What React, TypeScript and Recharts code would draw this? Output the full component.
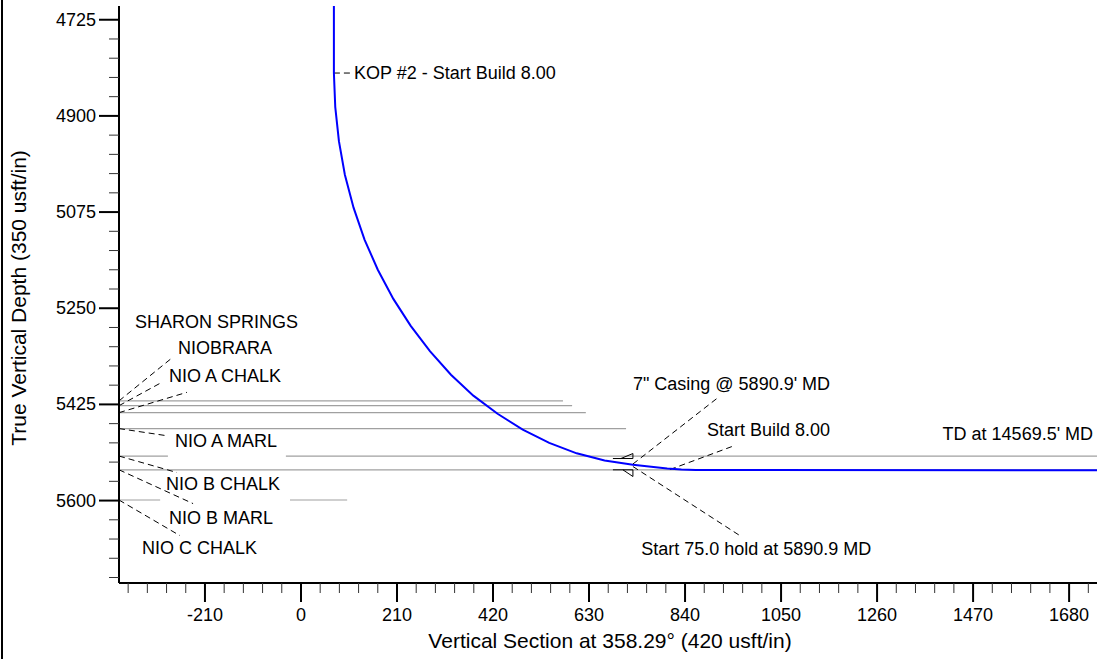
import React from "react";
import { LineChart, Line, XAxis, YAxis, ReferenceLine, ReferenceDot, Label } from "recharts";

const FONT = '"Liberation Sans", Arial, Helvetica, sans-serif';

// well path: vertical section (usft) and TVD (usft)
const pathVS = [72, 72, 75, 83, 96, 115, 139, 168, 202, 240, 282, 328, 377, 430, 485, 543, 603, 664, 726, 801, 832, 863, 1741];
const pathTVD = [4700, 4822, 4884, 4946, 5007, 5067, 5125, 5180, 5233, 5282, 5328, 5371, 5409, 5442, 5471, 5495, 5514, 5527, 5535, 5541.5, 5543.6, 5544.5, 5545];

// formation tops
const formationNames = ["SHARON SPRINGS", "NIOBRARA", "NIO A CHALK", "NIO A MARL", "NIO B CHALK", "NIO B MARL", "NIO C CHALK"];
const formationTVD = [5418.6, 5427.3, 5440, 5469, 5519, 5544, 5599];
const formationEndVS = [573, 593, 623, 711, 1741, 1741, 101];

// axis ticks
const xMajor = [-210, 0, 210, 420, 630, 840, 1050, 1260, 1470, 1680];
const yMajor = [4725, 4900, 5075, 5250, 5425, 5600];
const X_DOMAIN: [number, number] = [-398, 1741];
const Y_DOMAIN: [number, number] = [4700, 5750];

// label layout (data coords): where the text sits and where the dashed leader ends
const formationLabelPos = [
  { tx: -363, ty: 5275.5, lx: -280, ly: 5339 },
  { tx: -269, ty: 5323, lx: -308.4, ly: 5386.7 },
  { tx: -288.7, ty: 5374, lx: -249.4, ly: 5403 },
  { tx: -275.6, ty: 5492.5, lx: -297.5, ly: 5481.5 },
  { tx: -295.3, ty: 5569, lx: -271.2, ly: 5549 },
  { tx: -288.7, ty: 5631, lx: -236, ly: 5605.5 },
  { tx: -347.8, ty: 5685.7, lx: -264.7, ly: 5663.8 },
];
// where the tops are broken by the labels
const formationGaps: ([number, number] | null)[] = [null, null, null, null, [-291, -33], null, [-308, -24]];

const wellNotes = [
  { text: "KOP #2 - Start Build 8.00", vs: 72, tvd: 4822, lx: 107, ly: 4822, tx: 116, ty: 4822, anchor: "start" },
  { text: "7\" Casing @ 5890.9' MD", vs: 726, tvd: 5533.5, lx: 910, ly: 5414, tx: 726, ty: 5388.5, anchor: "start" },
  { text: "Start Build 8.00", vs: 807, tvd: 5543.5, lx: 949, ly: 5499.7, tx: 888, ty: 5472.4, anchor: "start" },
  { text: "Start 75.0 hold at 5890.9 MD", vs: 726, tvd: 5538, lx: 960, ly: 5663.8, tx: 744, ty: 5687.5, anchor: "start" },
  { text: "TD at 14569.5' MD", vs: null, tvd: null, lx: 0, ly: 0, tx: 1732.5, ty: 5478, anchor: "end" },
];
const casingPoint = { vs: 726, tvd: 5533.5 };

const wellPath = pathVS.map((vs, i) => ({ vs, tvd: pathTVD[i] }));

function subTicks(major: number[], domain: [number, number]) {
  const step = (major[1] - major[0]) / 5;
  const out: number[] = [];
  for (let v = major[0] - 5 * step; v <= domain[1] + 0.001; v += step) {
    if (v >= domain[0]) out.push(Math.round(v));
  }
  return out;
}
const xTicks = subTicks(xMajor, X_DOMAIN);
const yTicks = subTicks(yMajor, Y_DOMAIN);

const XTick = (p: any) => {
  const v = p.payload.value;
  const major = xMajor.includes(v);
  return (
    <g>
      <line x1={p.x} x2={p.x} y1={p.y} y2={p.y + (major ? 19 : 10)} stroke={major ? "#000" : "#333"} strokeWidth={major ? 2 : 1} />
      {major && (
        <text x={p.x} y={p.y + 32} textAnchor="middle" dominantBaseline="central" fontSize={18} fontFamily={FONT} fill="#000">
          {v}
        </text>
      )}
    </g>
  );
};

const YTick = (p: any) => {
  const v = p.payload.value;
  const major = yMajor.includes(v);
  return (
    <g>
      <line x1={p.x - (major ? 20 : 10)} x2={p.x} y1={p.y} y2={p.y} stroke={major ? "#000" : "#333"} strokeWidth={major ? 2 : 1} />
      {major && (
        <text x={p.x - 23} y={p.y} textAnchor="end" dominantBaseline="central" fontSize={18} fontFamily={FONT} fill="#000">
          {v}
        </text>
      )}
    </g>
  );
};

const textShape = (label: string, anchor: string) => (p: any) => (
  <text x={p.cx} y={p.cy} textAnchor={anchor} dominantBaseline="central" fontSize={18} fontFamily={FONT} fill="#000">
    {label}
  </text>
);

const casingShape = (p: any) => {
  const { cx, cy } = p;
  return (
    <g fill="none" stroke="#000" strokeWidth={1}>
      <path d={`M${cx - 20},${cy - 5.5} L${cx},${cy - 5.5} L${cx},${cy - 10.5} L${cx - 12},${cy - 5.5}`} />
      <path d={`M${cx - 20},${cy + 5.8} L${cx},${cy + 5.8} L${cx},${cy + 12.5} L${cx - 10},${cy + 5.8}`} />
    </g>
  );
};

const DASH = "6 4";

export default function App() {
  const topSegments: { x1: number; x2: number; y: number }[] = [];
  formationTVD.forEach((tvd, i) => {
    const gap = formationGaps[i];
    if (gap) {
      topSegments.push({ x1: X_DOMAIN[0], x2: gap[0], y: tvd });
      topSegments.push({ x1: gap[1], x2: formationEndVS[i], y: tvd });
    } else {
      topSegments.push({ x1: X_DOMAIN[0], x2: formationEndVS[i], y: tvd });
    }
  });

  return (
    <div style={{ position: "absolute", left: 0, top: 0, width: 1097, height: 659, background: "#fff" }}>
      <div style={{ position: "absolute", left: 1, top: 0, width: 1.5, height: 659, background: "#000" }} />
      <LineChart width={1097} height={659} margin={{ top: 6, right: 0, left: 0, bottom: 0 }}>
        <XAxis
          type="number"
          dataKey="vs"
          domain={X_DOMAIN}
          allowDataOverflow
          ticks={xTicks}
          interval={0}
          tickSize={0}
          tickMargin={0}
          tickLine={false}
          tick={XTick}
          height={76}
          axisLine={{ stroke: "#000", strokeWidth: 2 }}
        >
          <Label
            content={() => (
              <text x={610} y={640} textAnchor="middle" dominantBaseline="central" fontSize={21} fontFamily={FONT} fill="#000">
                Vertical Section at 358.29° (420 usft/in)
              </text>
            )}
          />
        </XAxis>
        <YAxis
          type="number"
          dataKey="tvd"
          domain={Y_DOMAIN}
          reversed
          allowDataOverflow
          ticks={yTicks}
          interval={0}
          tickSize={0}
          tickMargin={0}
          tickLine={false}
          tick={YTick}
          width={119}
          axisLine={{ stroke: "#000", strokeWidth: 2 }}
        >
          <Label
            content={() => (
              <text
                x={18}
                y={298}
                transform="rotate(-90 18 298)"
                textAnchor="middle"
                dominantBaseline="central"
                fontSize={21}
                fontFamily={FONT}
                fill="#000"
              >
                True Vertical Depth (350 usft/in)
              </text>
            )}
          />
        </YAxis>

        {topSegments.map((s, i) => (
          <ReferenceLine
            key={`top-${i}`}
            segment={[{ x: s.x1, y: s.y }, { x: s.x2, y: s.y }]}
            stroke="#a0a0a0"
            strokeWidth={1.2}
            ifOverflow="visible"
          />
        ))}

        {formationNames.map((name, i) => (
          <ReferenceLine
            key={`fl-${i}`}
            segment={[{ x: X_DOMAIN[0], y: formationTVD[i] }, { x: formationLabelPos[i].lx, y: formationLabelPos[i].ly }]}
            stroke="#000"
            strokeWidth={1}
            strokeDasharray={DASH}
            ifOverflow="visible"
          />
        ))}
        {formationNames.map((name, i) => (
          <ReferenceDot
            key={`ft-${i}`}
            x={formationLabelPos[i].tx}
            y={formationLabelPos[i].ty}
            r={0}
            shape={textShape(name, "start")}
            ifOverflow="visible"
          />
        ))}

        {wellNotes
          .filter((n) => n.vs !== null)
          .map((n, i) => (
            <ReferenceLine
              key={`wl-${i}`}
              segment={[{ x: n.vs as number, y: n.tvd as number }, { x: n.lx, y: n.ly }]}
              stroke="#000"
              strokeWidth={1}
              strokeDasharray={DASH}
              ifOverflow="visible"
            />
          ))}
        {wellNotes.map((n, i) => (
          <ReferenceDot key={`wt-${i}`} x={n.tx} y={n.ty} r={0} shape={textShape(n.text, n.anchor)} ifOverflow="visible" />
        ))}

        <Line
          data={wellPath}
          dataKey="tvd"
          type="linear"
          stroke="#0000ff"
          strokeWidth={2}
          dot={false}
          activeDot={false}
          isAnimationActive={false}
        />

        <ReferenceDot x={casingPoint.vs} y={casingPoint.tvd} r={0} shape={casingShape} ifOverflow="visible" />
      </LineChart>
    </div>
  );
}
